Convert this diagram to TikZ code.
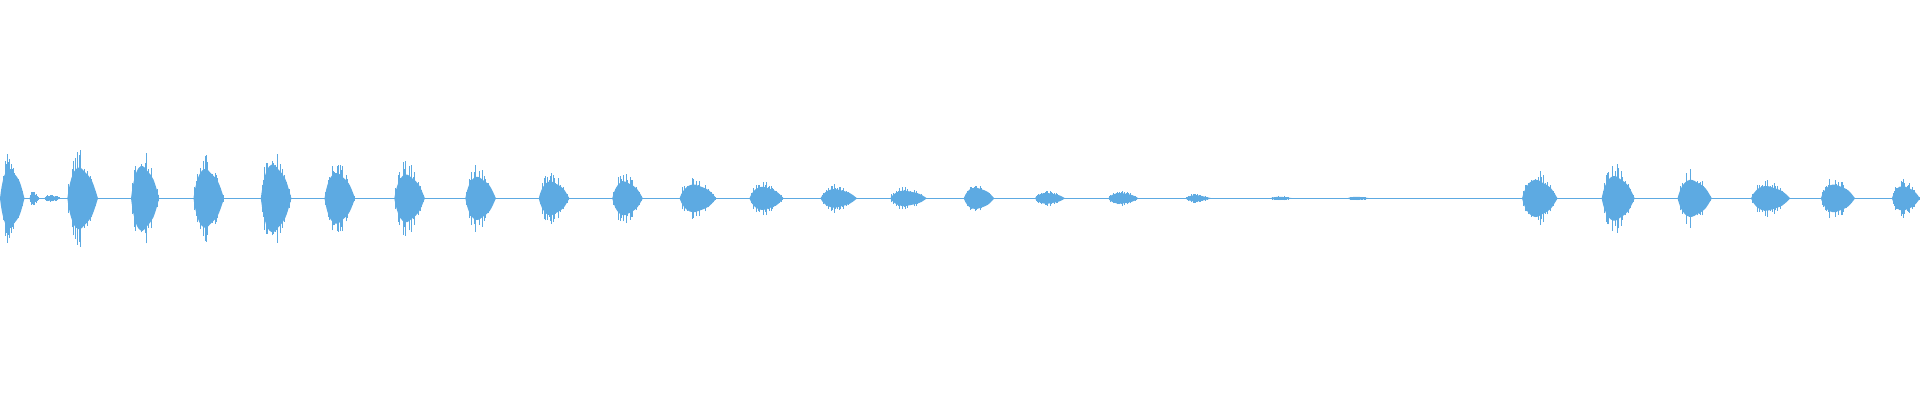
\documentclass[tikz,border=0pt]{standalone}
\usepackage{tikz}
\definecolor{wave}{RGB}{93,170,226}
\begin{document}
\begin{tikzpicture}[x=1pt,y=1pt]
  \tikzstyle{baseline}=[draw=wave, line width=0.5pt]
  \tikzstyle{spike}=[draw=wave, line width=0.45pt]
  \tikzstyle{body}=[fill=wave]
  \useasboundingbox (0,0) rectangle (1568,326.6);
  \pgfmathsetseed{7}
  \coordinate (mid) at (0,164.6);
  % thin line between the bursts
  \draw [baseline] (0,164.6) -- (1000,164.6);
  \draw [baseline, line width=0.3pt] (1000,164.6) -- (1568,164.6);
  % bursts: start / end / peak
  \foreach \a/\b/\h in {0/20/38, 24/32/6, 36/50/3, 55/80/40, 107/130/42, 158/183/38,
      213/238/44, 265/290/33, 322/347/31, 380/405/28, 440/465/22, 500/525/22,
      555/585/18, 612/640/15, 670/700/12, 727/757/10, 787/812/14, 845/870/7,
      905/930/7, 968/990/4, 1037/1057/2, 1100/1120/2, 1243/1272/24,
      1308/1335/29, 1370/1398/24, 1430/1462/16, 1487/1515/18, 1545/1568/16}{
    \pgfmathsetmacro\w{\b-\a}
    \fill [body] (\a,164.6) .. controls (\a+0.15*\w,164.6+0.7*\h) and (\a+0.4*\w,164.6+0.7*\h)
      .. (\a+0.55*\w,164.6+0.55*\h) .. controls (\a+0.8*\w,164.6+0.4*\h) .. (\b,164.6)
      .. controls (\a+0.8*\w,164.6-0.4*\h) .. (\a+0.55*\w,164.6-0.55*\h)
      .. controls (\a+0.4*\w,164.6-0.7*\h) and (\a+0.15*\w,164.6-0.7*\h) .. (\a,164.6) -- cycle;
    \foreach \i in {0,...,24}{
      \pgfmathsetmacro\x{\a+\w*\i/24}
      \pgfmathsetmacro\r{\h*sin(180*(\i/24)^0.7)*(0.45+0.55*rnd)}
      \draw [spike] (\x,164.6-\r) -- (\x,164.6+\r);
    }
  }
\end{tikzpicture}
\end{document}
